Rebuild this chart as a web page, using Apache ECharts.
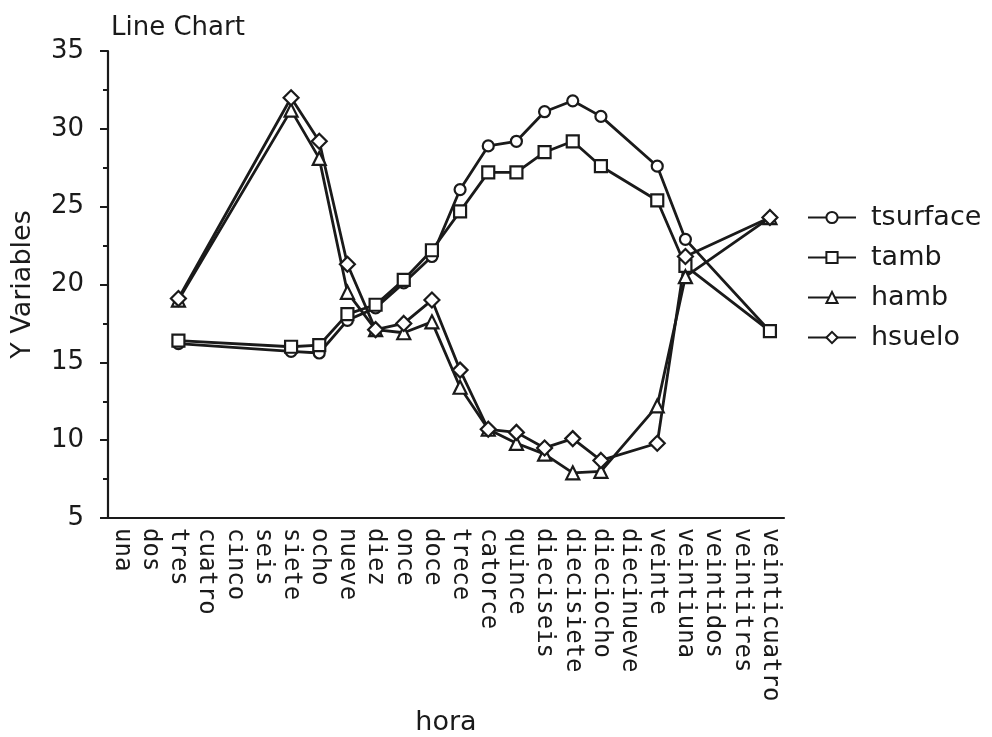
<!DOCTYPE html>
<html>
<head>
<meta charset="utf-8">
<script src="https://cdn.jsdelivr.net/npm/echarts@6/dist/echarts.min.js"></script>
<style>html,body{margin:0;padding:0;background:#fff}#c{width:992px;height:737px}</style>
</head>
<body>
<div id="c"></div>
<script>
const categories = ["una","dos","tres","cuatro","cinco","seis","siete","ocho","nueve","diez","once","doce","trece","catorce","quince","dieciseis","diecisiete","dieciocho","diecinueve","veinte","veintiuna","veintidos","veintitres","veinticuatro"];
const tsurface = [null,null,16.2,null,null,null,15.7,15.6,17.7,18.5,20.1,21.8,26.1,28.9,29.2,31.1,31.8,30.8,null,27.6,22.9,null,null,17.0];
const tamb     = [null,null,16.4,null,null,null,16.0,16.1,18.1,18.7,20.3,22.2,24.7,27.2,27.2,28.5,29.2,27.6,null,25.4,21.2,null,null,17.0];
const hamb     = [null,null,19.0,null,null,null,31.2,28.1,19.5,17.1,16.9,17.6,13.4,10.7,9.8,9.1,7.9,8.0,null,12.2,20.5,null,null,24.3];
const hsuelo   = [null,null,19.1,null,null,null,32.0,29.2,21.3,17.1,17.5,19.0,14.5,10.7,10.5,9.5,10.1,8.7,null,9.8,21.8,null,null,24.3];
const yTicks = [5,10,15,20,25,30,35];

const ink = '#1a1a1a';
const font = 'DejaVu Sans';
function mk(name, data, symbol, size) {
  return {
    name: name, type: 'line', data: data, connectNulls: true,
    symbol: symbol, symbolSize: size, showSymbol: true,
    lineStyle: { color: ink, width: 2.8 },
    itemStyle: { color: '#fff', borderColor: ink, borderWidth: 2.2 },
    emphasis: { disabled: true }, animation: false, z: 2
  };
}
const chart = echarts.init(document.getElementById('c'), null, { renderer: 'canvas' });
chart.setOption({
  backgroundColor: '#fff',
  animation: false,
  title: { text: 'Line Chart', left: 106, top: 10,
    textStyle: { fontFamily: font, fontSize: 26, fontWeight: 'normal', color: ink } },
  legend: {
    orient: 'vertical', left: 802, top: 199, itemWidth: 48, itemHeight: 14, itemGap: 13,
    textStyle: { fontFamily: font, fontSize: 27, color: ink, padding: [0, 0, 0, 10] },
    data: ['tsurface','tamb','hamb','hsuelo']
  },
  grid: { left: 108, right: 208, top: 51, bottom: 219, containLabel: false, outerBoundsMode: 'none' },
  xAxis: {
    type: 'category', data: categories, boundaryGap: true,
    name: 'hora', nameLocation: 'middle', nameGap: 188,
    nameTextStyle: { fontFamily: font, fontSize: 27, color: ink },
    axisLine: { lineStyle: { color: ink, width: 2.2 } },
    axisTick: { alignWithLabel: true, length: 6, lineStyle: { color: ink, width: 2 } },
    axisLabel: { rotate: -90, interval: 0, margin: 10, fontFamily: 'DejaVu Sans Mono', fontSize: 24, color: ink }
  },
  yAxis: {
    type: 'value', min: yTicks[0], max: yTicks[yTicks.length-1], interval: 5,
    name: 'Y Variables', nameLocation: 'middle', nameGap: 72, nameRotate: 90,
    nameTextStyle: { fontFamily: font, fontSize: 27, color: ink },
    axisLine: { show: true, lineStyle: { color: ink, width: 2.2 } },
    axisTick: { show: true, length: 8, lineStyle: { color: ink, width: 2 } },
    minorTick: { show: true, splitNumber: 2, length: 5, lineStyle: { color: ink, width: 2 } },
    splitLine: { show: false },
    axisLabel: { margin: 24, fontFamily: font, fontSize: 26, color: ink }
  },
  series: [
    mk('tsurface', tsurface, 'circle', 11),
    mk('tamb', tamb, 'rect', 12),
    mk('hamb', hamb, 'triangle', 13),
    mk('hsuelo', hsuelo, 'diamond', 15)
  ]
});
</script>
</body>
</html>
